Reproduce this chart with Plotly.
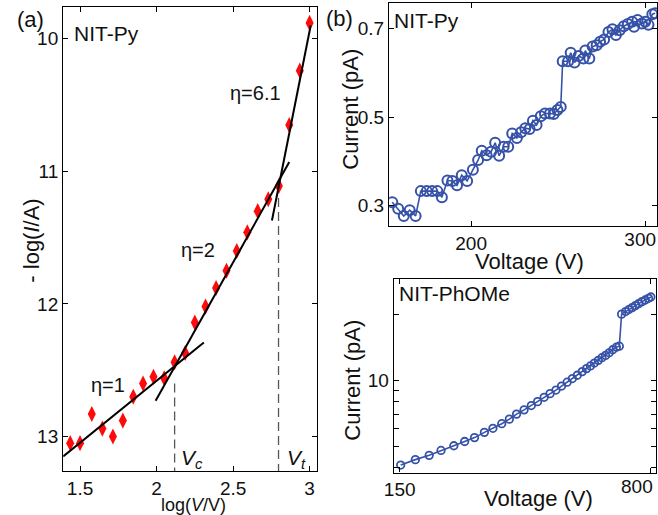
import plotly.graph_objects as go

# ---------------- Panel (a): NIT-Py, -log(I/A) vs log(V/V) ----------------
a_logV = [1.436, 1.50, 1.577, 1.646, 1.715, 1.78, 1.848, 1.912, 1.98, 2.05, 2.118, 2.187,
          2.25, 2.32, 2.389, 2.457, 2.524, 2.593, 2.661, 2.73, 2.799, 2.867, 2.936, 3.0]
a_neglogI = [13.05, 13.05, 12.83, 12.94, 13.0, 12.88, 12.70, 12.60, 12.55, 12.56, 12.44, 12.37,
             12.14, 12.02, 11.88, 11.75, 11.60, 11.46, 11.30, 11.21, 11.11, 10.65, 10.24, 9.88]
fit1_x = [1.39, 2.309]
fit1_y = [13.15, 12.29]
fit2_x = [1.994, 2.867]
fit2_y = [12.73, 10.93]
fit3_x = [2.754, 3.007]
fit3_y = [11.37, 9.90]
vc_x = [2.118, 2.118]
vc_y = [12.60, 13.26]
vt_x = [2.797, 2.797]
vt_y = [11.20, 13.26]
a_xticks = [1.5, 2, 2.5, 3]
a_xticktext = ["1.5", "2", "2.5", "3"]
a_yticks = [10, 11, 12, 13]

# ---------------- Panel (b) top: NIT-Py, Current vs Voltage ----------------
b_V = [154.7, 158.1, 161.3, 164.7, 168.1, 171.1, 174.5, 177.6, 180.6, 183.2, 186.4, 189.2,
       191.9, 194.6, 197.7, 201.0, 204.0, 206.1, 208.9, 211.5, 213.8, 216.1, 218.7, 221.3,
       223.6, 226.3, 228.7, 231.1, 233.6, 235.5, 237.6, 240.0, 242.4, 245.3, 247.5, 249.6,
       251.5, 252.6, 255.7, 257.2, 259.4, 261.7, 264.5, 265.6, 267.9, 269.8, 272.1, 274.1,
       276.4, 278.9, 281.2, 283.2, 285.3, 287.7, 290.0, 292.5, 293.6, 295.6, 298.1, 300.0,
       301.9, 304.1, 305.7]
b_I = [0.308, 0.293, 0.277, 0.290, 0.277, 0.333, 0.333, 0.333, 0.333, 0.319, 0.357, 0.356,
       0.346, 0.369, 0.356, 0.381, 0.403, 0.424, 0.414, 0.422, 0.442, 0.413, 0.433, 0.433,
       0.463, 0.453, 0.466, 0.475, 0.473, 0.492, 0.482, 0.502, 0.508, 0.508, 0.507, 0.516,
       0.523, 0.626, 0.626, 0.645, 0.623, 0.638, 0.632, 0.650, 0.632, 0.659, 0.662, 0.670,
       0.675, 0.692, 0.698, 0.685, 0.696, 0.705, 0.710, 0.715, 0.704, 0.719, 0.711, 0.715,
       0.708, 0.732, 0.734]
b_xticks = [200]
b_xticks_right = [300]
b_yticks = [0.3, 0.5, 0.7]
b_yticktext = ["0.3", "0.5", "0.7"]

# ---------------- Panel (c) bottom: NIT-PhOMe (log-log) ----------------
c_V = [151.0, 166.5, 182.6, 197.6, 215.2, 231.3, 247.0, 263.8, 279.2, 296.1, 311.5, 326.9,
       343.7, 360.6, 376.0, 392.8, 408.6, 425.0, 441.1, 457.8, 474.1, 489.9, 506.2, 520.9,
       534.7, 549.0, 563.6, 577.3, 591.4, 605.7, 620.5, 635.6, 648.3, 658.2, 675.9, 690.7,
       706.1, 721.7, 737.6, 754.0, 770.6, 787.6, 800.0]
c_I = [4.10, 4.34, 4.54, 4.78, 5.02, 5.25, 5.47, 5.78, 6.03, 6.33, 6.64, 7.00,
       7.32, 7.66, 7.98, 8.35, 8.68, 9.01, 9.40, 9.79, 10.17, 10.53, 10.94, 11.29,
       11.61, 11.97, 12.31, 12.66, 12.97, 13.33, 13.76, 14.14, 14.29, 20.0, 20.56, 20.99,
       21.43, 21.88, 22.34, 22.81, 23.21, 23.62, 23.95]
c_xticks = [150]
c_xticks_right = [800]
c_yticks = [10]
c_yticktext = ["10"]
c_yminor = [4, 5, 6, 7, 8, 9, 20]

W, H = 658, 515
FONT = "Liberation Sans, Arial, Helvetica, sans-serif"
RED = "#ff0a0a"
BLUE = "#3652a8"


def fx(px):
    return px / W


def fy(py):
    return 1 - py / H


fig = go.Figure()

# panel (a)
for xs, ys in [(vc_x, vc_y), (vt_x, vt_y)]:
    fig.add_trace(go.Scatter(x=xs, y=ys, mode="lines", xaxis="x", yaxis="y",
                             line=dict(color="#555555", width=1.3, dash="9px,5px")))
fig.add_trace(go.Scatter(x=a_logV, y=a_neglogI, mode="markers", xaxis="x", yaxis="y",
                         marker=dict(symbol="diamond-tall", size=11.5, color=RED,
                                     line=dict(width=0))))
for xs, ys in [(fit1_x, fit1_y), (fit2_x, fit2_y), (fit3_x, fit3_y)]:
    fig.add_trace(go.Scatter(x=xs, y=ys, mode="lines", xaxis="x", yaxis="y",
                             line=dict(color="black", width=2)))

# panel (b)
fig.add_trace(go.Scatter(x=b_V, y=b_I, mode="lines+markers", xaxis="x2", yaxis="y2",
                         line=dict(color=BLUE, width=1.6),
                         marker=dict(symbol="circle-open", size=10, color=BLUE,
                                     line=dict(width=2, color=BLUE))))
# empty helper trace so the overlaid tick axis of panel (b) is drawn
fig.add_trace(go.Scatter(x=[], y=[], xaxis="x4", yaxis="y2", hoverinfo="skip"))

# panel (c)
fig.add_trace(go.Scatter(x=c_V, y=c_I, mode="lines+markers", xaxis="x3", yaxis="y3",
                         line=dict(color=BLUE, width=1.6),
                         marker=dict(symbol="circle-open", size=7.5, color=BLUE,
                                     line=dict(width=1.8, color=BLUE))))
fig.add_trace(go.Scatter(x=[], y=[], xaxis="x5", yaxis="y3", hoverinfo="skip"))

common = dict(showline=True, linecolor="black", linewidth=1.3, mirror="ticks",
              ticks="inside", ticklen=5, tickwidth=1, tickcolor="black",
              showgrid=False, zeroline=False,
              tickfont=dict(family=FONT, size=19, color="#111111"))
overlay = dict(showline=False, mirror="ticks", ticks="inside", ticklen=5, tickwidth=1,
               tickcolor="black", showgrid=False, zeroline=False,
               tickfont=dict(family=FONT, size=19, color="#111111"))

fig.update_layout(
    width=W, height=H,
    margin=dict(l=0, r=0, t=0, b=0),
    paper_bgcolor="white", plot_bgcolor="white",
    showlegend=False,
    font=dict(family=FONT, color="#111111"),
    xaxis=dict(domain=[fx(54), fx(312)], range=[1.39, 3.05], anchor="y",
               tickmode="array", tickvals=a_xticks, ticktext=a_xticktext, **common),
    yaxis=dict(domain=[fy(471), fy(7)], range=[13.26, 9.76], anchor="x",
               tickmode="array", tickvals=a_yticks, **common),
    xaxis2=dict(domain=[fx(385), fx(657)], range=[152.9, 306.8], anchor="y2",
                tickmode="array", tickvals=b_xticks, **common),
    xaxis4=dict(domain=[fx(385), fx(657)], range=[152.9, 306.8], anchor="y2",
                overlaying="x2", side="bottom", tickmode="array", tickvals=b_xticks_right,
                ticklabelshift=-5, **overlay),
    yaxis2=dict(domain=[fy(225.7), fy(2.7)], range=[0.255, 0.758], anchor="x2",
                tickmode="array", tickvals=b_yticks, ticktext=b_yticktext, **common),
    xaxis3=dict(domain=[fx(389.7), fx(656)], type="log", range=[2.159, 2.918], anchor="y3",
                tickmode="array", tickvals=c_xticks, **common),
    xaxis5=dict(domain=[fx(389.7), fx(656)], type="log", range=[2.159, 2.918], anchor="y3",
                overlaying="x3", side="bottom", tickmode="array", tickvals=c_xticks_right,
                ticklabelshift=-14, **overlay),
    yaxis3=dict(domain=[fy(472.5), fy(278.5)], type="log", range=[0.5788, 1.4637], anchor="x3",
                tickmode="array", tickvals=c_yticks, ticktext=c_yticktext,
                minor=dict(tickmode="array", tickvals=c_yminor, ticks="inside",
                           ticklen=5, tickwidth=1, tickcolor="black", showgrid=False),
                **common),
)

ann = []


def paper_text(text, px, py, size, xanchor="center", yanchor="middle", angle=0):
    ann.append(dict(text=text, x=fx(px), y=fy(py), xref="paper", yref="paper",
                    xanchor=xanchor, yanchor=yanchor, showarrow=False, textangle=angle,
                    font=dict(family=FONT, size=size, color="#111111")))


def data_text(text, x, y, xr, yr, size, xanchor="center"):
    ann.append(dict(text=text, x=x, y=y, xref=xr, yref=yr, xanchor=xanchor,
                    yanchor="middle", showarrow=False,
                    font=dict(family=FONT, size=size, color="#111111")))


paper_text("(a)", 21, 19, 22)
paper_text("(b)", 335, 18, 22)
paper_text("NIT-Py", 63, 33, 21, xanchor="left")
paper_text("NIT-Py", 388, 21, 21, xanchor="left")
paper_text("NIT-PhOMe", 393, 293, 21, xanchor="left")
paper_text("- log(<i>I</i>/A)", 21, 241, 22, angle=-90)
paper_text("log(<i>V</i>/V)", 186, 505, 18)
paper_text("Current (pA)", 345, 109, 22, angle=-90)
paper_text("Voltage (V)", 528, 261, 22)
paper_text("Current (pA)", 347, 380, 22, angle=-90)
paper_text("Voltage (V)", 537, 498, 22)

data_text("\u03b7=1", 1.68, 12.61, "x", "y", 20)
data_text("\u03b7=2", 2.273, 11.59, "x", "y", 20)
data_text("\u03b7=6.1", 2.646, 10.41, "x", "y", 20)
data_text("<i>V<sub>c</sub></i>", 2.145, 13.17, "x", "y", 21, xanchor="left")
data_text("<i>V<sub>t</sub></i>", 2.84, 13.17, "x", "y", 21, xanchor="left")

fig.update_layout(annotations=ann)

fig.write_html("out.html")
